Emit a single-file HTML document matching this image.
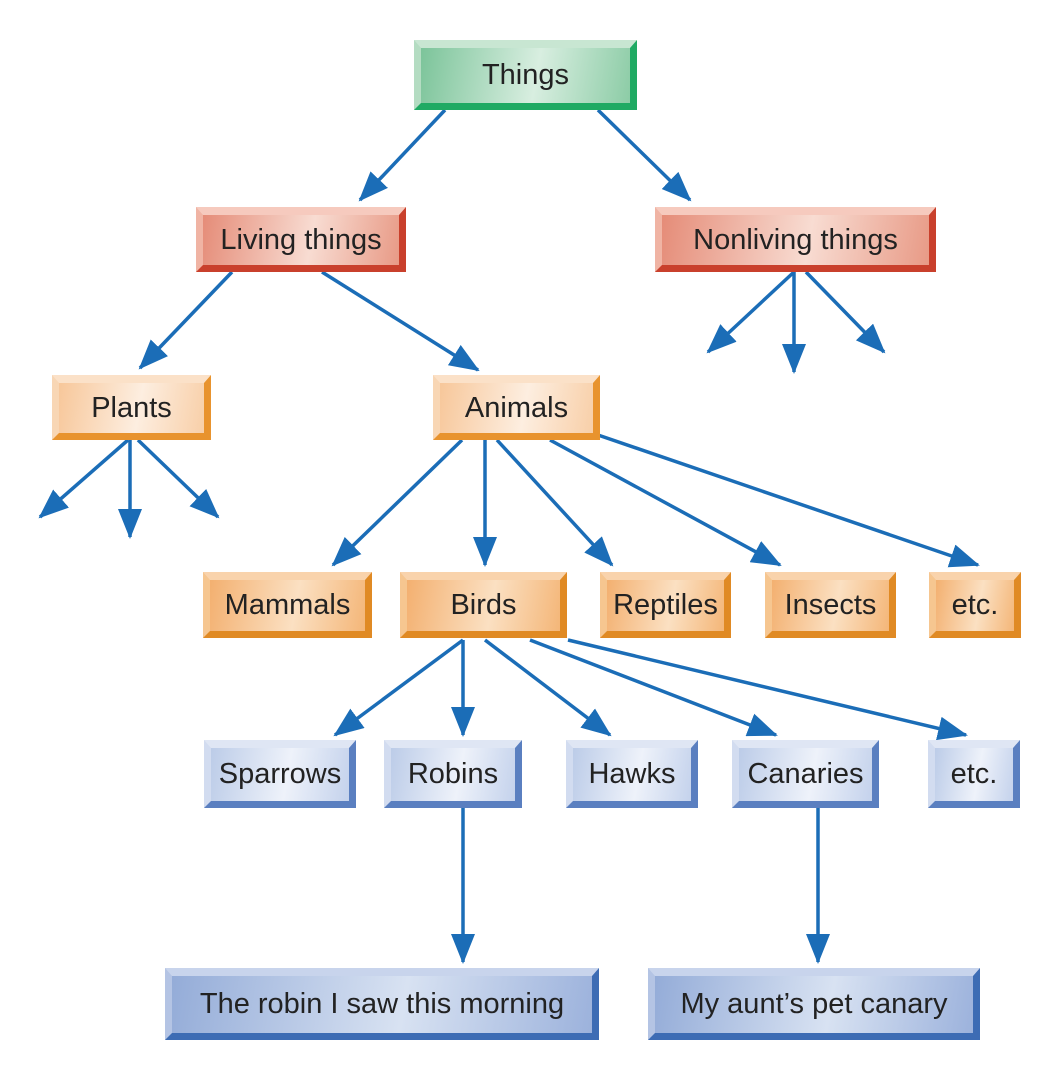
<!DOCTYPE html>
<html><head><meta charset="utf-8"><style>
body{margin:0;width:1063px;height:1078px;background:#fff;position:relative;overflow:hidden;font-family:"Liberation Sans",sans-serif}
.b{position:absolute;box-sizing:border-box;border-style:solid;border-width:8px 7px 7px 7px;display:flex;align-items:center;justify-content:center;font-size:29px;color:#222;white-space:nowrap}
.g{background:linear-gradient(100deg,#7cc49a,#d8eee0 55%,#8ccca6);border-color:#c8e6d2 #1faa63 #1faa63 #b4dcc2}
.r{background:linear-gradient(100deg,#e58c78,#f8dcd2 55%,#e89a86);border-color:#f6cabe #c9402c #c9402c #f0b4a4}
.o{background:linear-gradient(100deg,#f7c79a,#fdeee0 55%,#f8cfa8);border-color:#fbe1c8 #e8932e #e8932e #f8d6b4}
.o2{background:linear-gradient(100deg,#f3b070,#fbe0c2 55%,#f4b678);border-color:#f9d3ac #e08a24 #e08a24 #f6c690}
.l{background:linear-gradient(100deg,#bccce8,#eef2fa 55%,#c4d2ec);border-color:#dfe6f4 #5a7fc0 #5a7fc0 #d2dcf0}
.d{background:linear-gradient(100deg,#94acd8,#d8e2f2 55%,#9cb2dc);border-color:#c8d4ec #3d6cb4 #3d6cb4 #b4c4e4}
</style></head><body>
<svg width="1063" height="1078" style="position:absolute;left:0;top:0">
<defs><marker id="m" markerWidth="30" markerHeight="24" refX="28" refY="12" orient="auto" markerUnits="userSpaceOnUse"><path d="M0,0 L30,12 L0,24 z" fill="#1b6db7"/></marker></defs>
<g stroke="#1b6db7" stroke-width="3.5" fill="none" marker-end="url(#m)">
<line x1="445" y1="110" x2="360" y2="200"/><line x1="598" y1="110" x2="690" y2="200"/>
<line x1="232" y1="272" x2="140" y2="368"/><line x1="322" y1="272" x2="478" y2="370"/>
<line x1="794" y1="272" x2="708" y2="352"/><line x1="794" y1="272" x2="794" y2="372"/><line x1="806" y1="272" x2="884" y2="352"/>
<line x1="128" y1="440" x2="40" y2="517"/><line x1="130" y1="440" x2="130" y2="537"/><line x1="138" y1="440" x2="218" y2="517"/>
<line x1="462" y1="440" x2="333" y2="565"/><line x1="485" y1="440" x2="485" y2="565"/><line x1="497" y1="440" x2="612" y2="565"/><line x1="550" y1="440" x2="780" y2="565"/><line x1="598" y1="435" x2="978" y2="565"/>
<line x1="463" y1="640" x2="335" y2="735"/><line x1="463" y1="640" x2="463" y2="735"/><line x1="485" y1="640" x2="610" y2="735"/><line x1="530" y1="640" x2="776" y2="735"/><line x1="568" y1="640" x2="966" y2="735"/>
<line x1="463" y1="808" x2="463" y2="962"/><line x1="818" y1="808" x2="818" y2="962"/>
</g></svg>
<div class="b g" style="left:414px;top:40px;width:223px;height:70px">Things</div>
<div class="b r" style="left:196px;top:207px;width:210px;height:65px">Living things</div>
<div class="b r" style="left:655px;top:207px;width:281px;height:65px">Nonliving things</div>
<div class="b o" style="left:52px;top:375px;width:159px;height:65px">Plants</div>
<div class="b o" style="left:433px;top:375px;width:167px;height:65px">Animals</div>
<div class="b o2" style="left:203px;top:572px;width:169px;height:66px">Mammals</div>
<div class="b o2" style="left:400px;top:572px;width:167px;height:66px">Birds</div>
<div class="b o2" style="left:600px;top:572px;width:131px;height:66px">Reptiles</div>
<div class="b o2" style="left:765px;top:572px;width:131px;height:66px">Insects</div>
<div class="b o2" style="left:929px;top:572px;width:92px;height:66px">etc.</div>
<div class="b l" style="left:204px;top:740px;width:152px;height:68px">Sparrows</div>
<div class="b l" style="left:384px;top:740px;width:138px;height:68px">Robins</div>
<div class="b l" style="left:566px;top:740px;width:132px;height:68px">Hawks</div>
<div class="b l" style="left:732px;top:740px;width:147px;height:68px">Canaries</div>
<div class="b l" style="left:928px;top:740px;width:92px;height:68px">etc.</div>
<div class="b d" style="left:165px;top:968px;width:434px;height:72px">The robin I saw this morning</div>
<div class="b d" style="left:648px;top:968px;width:332px;height:72px">My aunt’s pet canary</div>
</body></html>
